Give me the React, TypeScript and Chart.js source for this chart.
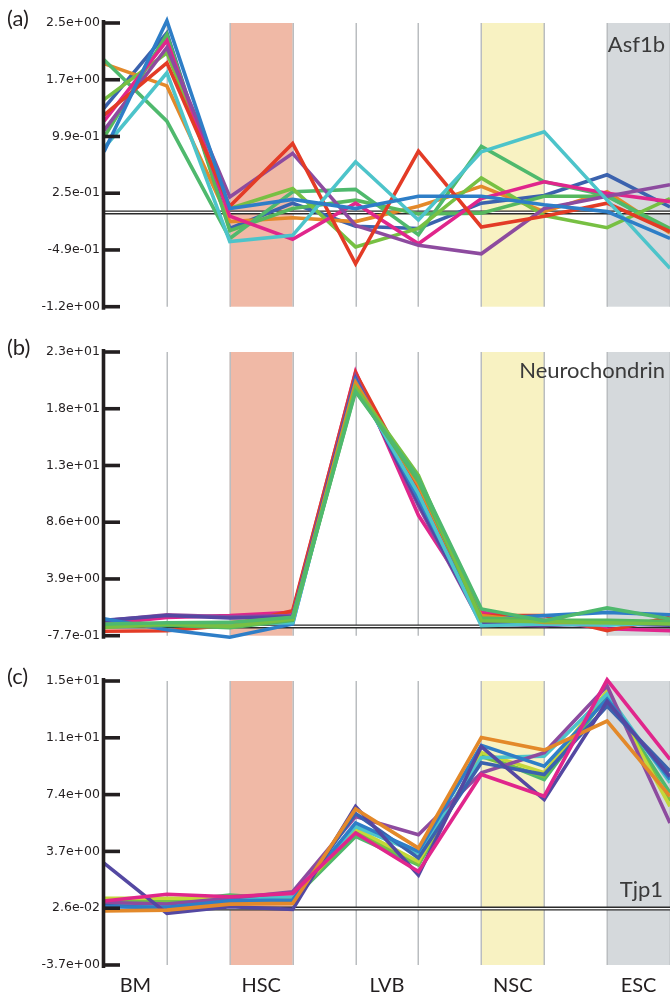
import React, { useEffect, useRef } from 'react';
import { Chart, registerables } from 'chart.js';

Chart.register(...registerables);

// ---------- shared categories ----------
const categories = ['BM', 'HSC', 'LVB', 'NSC', 'ESC'];
const samplesPerCategory = 2;
const shadedCategories = ['HSC', 'NSC', 'ESC'];

// ---------- panel (a) Asf1b ----------
const asf1bTicks = [-1.23, -0.49, 0.25, 0.99, 1.73, 2.47];
const asf1bTickLabels = ['-1.2e+00', '-4.9e-01', '2.5e-01', '9.9e-01', '1.7e+00', '2.5e+00'];
const asf1bBlue = [0.79, 2.5, 0.05, 0.17, 0.05, 0.21, 0.21, 0.1, 0.01, -0.34];
const asf1bTeal = [0.84, 1.82, -0.38, -0.3, 0.66, -0.1, 0.79, 1.05, 0.16, -0.73];
const asf1bRed = [1.27, 1.95, 0.08, 0.9, -0.67, 0.8, -0.19, -0.05, 0.12, -0.25];
const asf1bPurple = [1.07, 2.15, 0.2, 0.77, -0.17, -0.43, -0.54, 0.05, 0.21, 0.36];
const asf1bMagenta = [1.19, 2.24, -0.05, -0.35, 0.12, -0.41, 0.18, 0.4, 0.25, 0.14];
const asf1bLightGreen = [1.47, 2.08, 0.05, 0.31, -0.45, -0.21, 0.45, -0.04, -0.2, 0.18];
const asf1bGreen = [1.99, 1.19, -0.34, 0.27, 0.3, -0.29, 0.86, 0.4, 0.22, -0.25];
const asf1bGreen2 = [0.98, 2.32, -0.24, 0.05, 0.16, -0.02, -0.01, 0.21, 0.21, -0.21];
const asf1bOrange = [1.94, 1.65, -0.12, -0.07, -0.12, 0.08, 0.34, 0.01, 0.27, -0.27];
const asf1bDarkBlue = [1.36, 2.34, -0.21, 0.12, -0.18, -0.21, 0.12, 0.22, 0.49, 0.07];

// ---------- panel (b) Neurochondrin ----------
const ncdnTicks = [-0.77, 3.93, 8.63, 13.33, 18.03, 22.73];
const ncdnTickLabels = ['-7.7e-01', '3.9e+00', '8.6e+00', '1.3e+01', '1.8e+01', '2.3e+01'];
const ncdnMagenta = [0.2, 0.75, 0.89, 1.16, 21.1, 9.2, 1.16, 0.5, -0.2, -0.36];
const ncdnRed = [-0.4, -0.36, 0.1, 1.3, 21.0, 11.3, 0.9, 0.9, -0.36, 0.75];
const ncdnGreen = [0.2, 0.3, 0.33, 0.75, 19.45, 12.3, 1.45, 0.47, 1.53, 0.61];
const ncdnLightGreen = [-0.08, 0.2, 0.0, 0.6, 19.8, 12.5, 0.47, 0.4, 0.3, 0.2];
const ncdnPurple = [0.47, 0.97, 0.8, 0.9, 20.7, 10.0, 0.2, 0.06, 0.47, 0.2];
const ncdnIndigo = [0.5, 0.9, 0.7, 0.8, 20.5, 10.2, 0.3, 0.1, 0.2, 0.1];
const ncdnBlue = [0.64, -0.27, -0.9, 0.2, 20.4, 10.6, 0.6, 0.89, 1.16, 0.97];
const ncdnTeal = [0.1, 0.1, 0.2, 0.3, 20.0, 11.0, 0.06, 0.2, 0.1, 0.3];
const ncdnOrange = [0.0, 0.1, 0.3, 0.7, 20.2, 11.7, 0.89, 0.33, 0.33, 0.33];
const ncdnGreen2 = [0.0, 0.1, -0.1, 0.5, 19.6, 12.0, 0.7, 0.5, 0.5, 0.4];

// ---------- panel (c) Tjp1 ----------
const tjp1Ticks = [-3.674, 0.026, 3.726, 7.426, 11.126, 14.826];
const tjp1TickLabels = ['-3.7e+00', '2.6e-02', '3.7e+00', '7.4e+00', '1.1e+01', '1.5e+01'];
const tjp1Magenta = [0.5, 0.93, 0.77, 0.99, 4.92, 2.41, 8.74, 7.32, 14.9, 9.72];
const tjp1Orange = [-0.16, -0.1, 0.29, 0.34, 6.49, 3.94, 11.14, 10.33, 12.22, 7.32];
const tjp1Purple = [0.4, 0.3, 0.67, 1.1, 6.0, 4.81, 8.85, 10.16, 14.5, 5.58];
const tjp1Indigo = [2.96, -0.31, 0.12, -0.05, 6.66, 2.19, 10.55, 7.1, 13.5, 8.6];
const tjp1Blue = [0.12, 0.08, 0.51, 0.56, 5.58, 3.72, 10.63, 9.28, 13.65, 8.41];
const tjp1DarkBlue = [0.2, 0.0, 0.4, 0.5, 6.2, 3.3, 9.5, 8.74, 13.2, 8.95];
const tjp1Teal = [0.34, 0.23, 0.67, 0.77, 5.35, 3.61, 9.83, 9.93, 13.97, 8.2];
const tjp1Green = [0.45, 0.45, 0.88, 0.6, 4.7, 2.85, 10.05, 8.41, 13.86, 7.54];
const tjp1Lime = [0.67, 0.67, 0.7, 0.7, 5.2, 3.06, 10.16, 8.85, 14.19, 6.66];
const tjp1LightGreen = [0.6, 0.55, 0.8, 0.65, 5.0, 2.9, 9.9, 8.6, 14.0, 7.0];

// ---------- styles ----------
const COLORS: Record<string, string> = {
  red: '#e33b26',
  purple: '#8d4b9f',
  green: '#4fb96d',
  green2: '#55b85e',
  lightGreen: '#77c043',
  teal: '#4dc4ca',
  blue: '#2e7ec7',
  darkBlue: '#3b62ae',
  magenta: '#e0268c',
  orange: '#e3892a',
  indigo: '#5448a2',
  lime: '#c4d83a',
};
const BAND_COLORS: Record<string, string> = {
  HSC: '#f0b9a6',
  NSC: '#f8f2c2',
  ESC: '#d5d9dc',
};
const INK = '#231f20';

type Series = { color: string; values: number[] };

const panels = [
  {
    letter: '(a)',
    gene: 'Asf1b',
    geneX: 665,
    geneY: 52,
    ticks: asf1bTicks,
    tickLabels: asf1bTickLabels,
    height: 329,
    showX: false,
    series: [
      { color: COLORS.blue, values: asf1bBlue },
      { color: COLORS.teal, values: asf1bTeal },
      { color: COLORS.red, values: asf1bRed },
      { color: COLORS.purple, values: asf1bPurple },
      { color: COLORS.magenta, values: asf1bMagenta },
      { color: COLORS.lightGreen, values: asf1bLightGreen },
      { color: COLORS.green, values: asf1bGreen },
      { color: COLORS.green2, values: asf1bGreen2 },
      { color: COLORS.orange, values: asf1bOrange },
      { color: COLORS.darkBlue, values: asf1bDarkBlue },
    ] as Series[],
  },
  {
    letter: '(b)',
    gene: 'Neurochondrin',
    geneX: 665,
    geneY: 49,
    ticks: ncdnTicks,
    tickLabels: ncdnTickLabels,
    height: 329,
    showX: false,
    series: [
      { color: COLORS.green, values: ncdnGreen },
      { color: COLORS.lightGreen, values: ncdnLightGreen },
      { color: COLORS.green2, values: ncdnGreen2 },
      { color: COLORS.orange, values: ncdnOrange },
      { color: COLORS.teal, values: ncdnTeal },
      { color: COLORS.blue, values: ncdnBlue },
      { color: COLORS.indigo, values: ncdnIndigo },
      { color: COLORS.purple, values: ncdnPurple },
      { color: COLORS.red, values: ncdnRed },
      { color: COLORS.magenta, values: ncdnMagenta },
    ] as Series[],
  },
  {
    letter: '(c)',
    gene: 'Tjp1',
    geneX: 663,
    geneY: 239,
    ticks: tjp1Ticks,
    tickLabels: tjp1TickLabels,
    height: 341,
    showX: true,
    series: [
      { color: COLORS.magenta, values: tjp1Magenta },
      { color: COLORS.orange, values: tjp1Orange },
      { color: COLORS.indigo, values: tjp1Indigo },
      { color: COLORS.blue, values: tjp1Blue },
      { color: COLORS.darkBlue, values: tjp1DarkBlue },
      { color: COLORS.purple, values: tjp1Purple },
      { color: COLORS.teal, values: tjp1Teal },
      { color: COLORS.lime, values: tjp1Lime },
      { color: COLORS.lightGreen, values: tjp1LightGreen },
      { color: COLORS.green, values: tjp1Green },
    ] as Series[],
  },
];

type Panel = (typeof panels)[number];

function makeDecor(p: Panel) {
  return {
    id: 'decor',
    beforeDatasetsDraw(chart: any) {
      const { ctx, chartArea: ca, scales } = chart;
      const x = scales.x;
      const y = scales.y;
      ctx.save();
      // shaded category bands
      shadedCategories.forEach((cat) => {
        const ci = categories.indexOf(cat);
        const x0 = x.getPixelForValue(ci * samplesPerCategory);
        const x1 = x.getPixelForValue(ci * samplesPerCategory + 1);
        ctx.fillStyle = BAND_COLORS[cat];
        ctx.fillRect(x0, ca.top, x1 - x0, ca.bottom - ca.top);
      });
      // vertical sample lines
      ctx.strokeStyle = '#babdc0';
      ctx.lineWidth = 1.5;
      const n = categories.length * samplesPerCategory;
      for (let i = 1; i < n; i++) {
        const px = Math.round(x.getPixelForValue(i)) + 0.25;
        ctx.beginPath();
        ctx.moveTo(px, ca.top);
        ctx.lineTo(px, ca.bottom);
        ctx.stroke();
      }
      // zero line (double)
      const y0 = y.getPixelForValue(0);
      ctx.strokeStyle = '#2a2a2a';
      ctx.lineWidth = 4;
      ctx.beginPath();
      ctx.moveTo(ca.left, y0);
      ctx.lineTo(ca.right, y0);
      ctx.stroke();
      ctx.strokeStyle = '#ffffff';
      ctx.lineWidth = 1.3;
      ctx.beginPath();
      ctx.moveTo(ca.left, y0);
      ctx.lineTo(ca.right, y0);
      ctx.stroke();
      ctx.restore();
    },
    afterDatasetsDraw(chart: any) {
      const { ctx, chartArea: ca, scales } = chart;
      const y = scales.y;
      ctx.save();
      ctx.strokeStyle = INK;
      // axis line
      ctx.lineWidth = 3.6;
      ctx.beginPath();
      ctx.moveTo(ca.left - 0.5, ca.top - 3);
      ctx.lineTo(ca.left - 0.5, ca.bottom + 3);
      ctx.stroke();
      // inward tick marks
      ctx.lineWidth = 3.6;
      y.ticks.forEach((t: any) => {
        const py = y.getPixelForValue(t.value);
        ctx.beginPath();
        ctx.moveTo(ca.left - 1, py);
        ctx.lineTo(ca.left + 16, py);
        ctx.stroke();
      });
      // panel letter
      ctx.fillStyle = INK;
      ctx.font = '22px Lato';
      ctx.textAlign = 'left';
      ctx.textBaseline = 'middle';
      ctx.fillText(p.letter, 7, 19);
      // gene name
      ctx.fillStyle = '#3a3a3a';
      ctx.font = '22px Lato';
      ctx.textAlign = 'right';
      ctx.textBaseline = 'alphabetic';
      ctx.fillText(p.gene, p.geneX, p.geneY);
      ctx.restore();
    },
  };
}

function PanelChart({ p }: { p: Panel }) {
  const ref = useRef<HTMLCanvasElement | null>(null);
  useEffect(() => {
    if (!ref.current) return;
    const n = categories.length * samplesPerCategory;
    const chart = new Chart(ref.current, {
      type: 'line',
      data: {
        datasets: p.series.map((s) => ({
          data: s.values.map((v, i) => ({ x: i, y: v })),
          borderColor: s.color,
          backgroundColor: s.color,
          borderWidth: 3.6,
          pointRadius: 0,
          tension: 0,
          fill: false,
          clip: false as any,
        })),
      },
      options: {
        responsive: false,
        animation: false,
        events: [],
        layout: {
          padding: {
            top: 23,
            bottom: p.showX ? 0 : p.height - 306.7,
            left: 0,
            right: 0,
          },
        },
        plugins: {
          legend: { display: false },
          tooltip: { enabled: false },
          title: { display: false },
        },
        scales: {
          x: {
            type: 'linear',
            min: 0,
            max: n - 1,
            display: p.showX,
            grid: { display: false, drawTicks: false },
            border: { display: false },
            afterBuildTicks: (s: any) => {
              s.ticks = categories.map((_, i) => ({
                value: i * samplesPerCategory + (samplesPerCategory - 1) / 2,
              }));
            },
            afterFit: (s: any) => {
              s.height = p.showX ? 34 : 0;
            },
            ticks: {
              autoSkip: false,
              maxRotation: 0,
              padding: 9,
              color: INK,
              font: { family: 'Lato', size: 20 },
              callback: (v: any) => categories[Math.floor(Number(v) / samplesPerCategory)],
            },
          },
          y: {
            type: 'linear',
            min: p.ticks[0],
            max: p.ticks[p.ticks.length - 1],
            grid: { display: false, drawTicks: false },
            border: { display: false },
            afterBuildTicks: (s: any) => {
              s.ticks = p.ticks.map((v) => ({ value: v }));
            },
            afterFit: (s: any) => {
              s.width = 104;
            },
            ticks: {
              autoSkip: false,
              padding: 4,
              color: INK,
              font: { family: 'DejaVu Sans', size: 12.5 },
              callback: (_v: any, i: number) => p.tickLabels[i],
            },
          },
        },
      } as any,
      plugins: [makeDecor(p)],
    });
    return () => chart.destroy();
  }, [p]);
  return (
    <canvas
      ref={ref}
      width={670}
      height={p.height}
      style={{ display: 'block', width: 670, height: p.height }}
    />
  );
}

export default function App() {
  return (
    <div style={{ position: 'absolute', left: 0, top: 0, width: 670, height: 999, background: '#fff' }}>
      {panels.map((p) => (
        <PanelChart key={p.letter} p={p} />
      ))}
    </div>
  );
}
